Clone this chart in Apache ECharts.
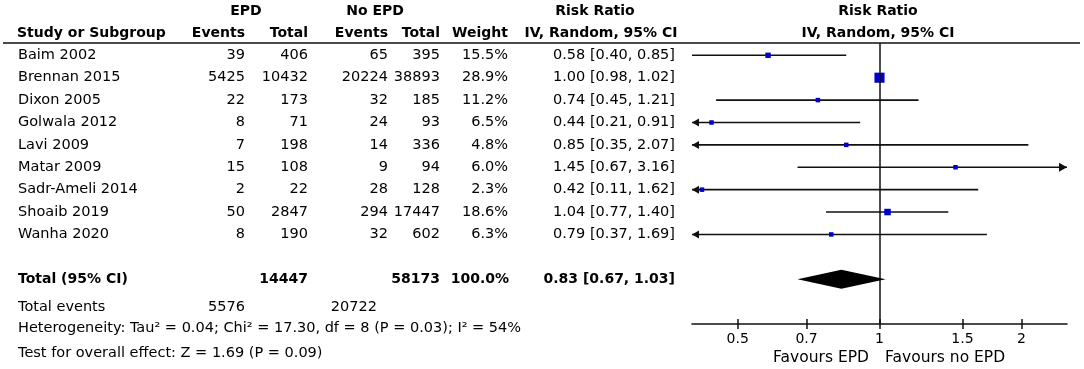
<!DOCTYPE html>
<html lang="en">
<head>
  <meta charset="UTF-8">
  <title>EPD forest plot</title>
  <script src="https://cdn.jsdelivr.net/npm/echarts@6.0.0/dist/echarts.min.js"></script>
  <style>body{margin:0;background:#fff;}</style>
</head>
<body>
<div id="main" style="width:1084px;height:369px;"></div>
<script type="text/javascript">
// study data
var studies   = ['Baim 2002', 'Brennan 2015', 'Dixon 2005', 'Golwala 2012', 'Lavi 2009', 'Matar 2009', 'Sadr-Ameli 2014', 'Shoaib 2019', 'Wanha 2020'];
var epdEvents = [39, 5425, 22, 8, 7, 15, 2, 50, 8];
var epdTotal  = [406, 10432, 173, 71, 198, 108, 22, 2847, 190];
var noEvents  = [65, 20224, 32, 24, 14, 9, 28, 294, 32];
var noTotal   = [395, 38893, 185, 93, 336, 94, 128, 17447, 602];
var weights   = [15.5, 28.9, 11.2, 6.5, 4.8, 6.0, 2.3, 18.6, 6.3];
var rr        = [0.58, 1.00, 0.74, 0.44, 0.85, 1.45, 0.42, 1.04, 0.79];
var ciLow     = [0.40, 0.98, 0.45, 0.21, 0.35, 0.67, 0.11, 0.77, 0.37];
var ciHigh    = [0.85, 1.02, 1.21, 0.91, 2.07, 3.16, 1.62, 1.40, 1.69];

// pooled estimate: rr, low, high
var pooled      = [0.83, 0.67, 1.03];
var totalN      = [14447, 58173];
var totalEvents = [5576, 20722];
var totalRow    = 10;

var xTicks = [0.5, 0.7, 1, 1.5, 2];
var xRange = [0.4, 2.5];

var FONT = 'DejaVu Sans';
var INK = '#111';

function rrText(a, b, c) {
  return a.toFixed(2) + ' [' + b.toFixed(2) + ', ' + c.toFixed(2) + ']';
}
function t(text, x, y, align, bold, size) {
  return {
    type: 'text', x: 0, y: 0, silent: true,
    style: {
      text: String(text), x: x, y: y, align: align || 'left', verticalAlign: 'middle',
      fontFamily: FONT, fontSize: size || (bold ? 14 : 14.5), fontWeight: bold ? 'bold' : 'normal', fill: '#000'
    }
  };
}

var myChart = echarts.init(document.getElementById('main'));

var tableData = studies.map(function (s, i) { return [1, i]; });
tableData.push([1, totalRow]);

var option = {
  animation: false,
  grid: { left: 692, right: 17, top: 43, bottom: 45, containLabel: false, outerBoundsMode: 'none' },
  xAxis: [{
    type: 'log', logBase: 10, min: xRange[0], max: xRange[1], position: 'bottom',
    axisLine: { show: true, onZero: false, lineStyle: { color: INK, width: 1.5 } },
    axisTick: { show: true, inside: false, length: 5, customValues: xTicks, lineStyle: { color: INK, width: 1.5 } },
    axisLabel: {
      customValues: xTicks, margin: 8, color: '#000', fontFamily: FONT, fontSize: 14,
      formatter: function (v) { return String(+(+v).toFixed(2)); }
    },
    splitLine: { show: false }, minorTick: { show: false }
  }, {
    // second copy only for the upward half of the ticks
    type: 'log', logBase: 10, min: xRange[0], max: xRange[1], position: 'bottom', offset: 0,
    axisLine: { show: false, onZero: false },
    axisTick: { show: true, inside: true, length: 5, customValues: xTicks, lineStyle: { color: INK, width: 1.5 } },
    axisLabel: { show: false },
    splitLine: { show: false }
  }],
  yAxis: {
    type: 'value', inverse: true, min: -0.55, max: 12, show: false
  },
  graphic: [
    { type: 'line', silent: true, shape: { x1: 3, y1: 43, x2: 1080, y2: 43 }, style: { stroke: INK, lineWidth: 1.5 } },
    t('EPD', 246, 11, 'center', true),
    t('No EPD', 375, 11, 'center', true),
    t('Risk Ratio', 595, 11, 'center', true),
    t('Risk Ratio', 878, 11, 'center', true),
    t('Study or Subgroup', 17, 33, 'left', true),
    t('Events', 245, 33, 'right', true),
    t('Total', 308, 33, 'right', true),
    t('Events', 388, 33, 'right', true),
    t('Total', 440, 33, 'right', true),
    t('Weight', 508, 33, 'right', true),
    t('IV, Random, 95% CI', 601, 33, 'center', true),
    t('IV, Random, 95% CI', 878, 33, 'center', true),
    t('Total events', 18, 307, 'left'),
    t(totalEvents[0], 245, 307, 'right'),
    t(totalEvents[1], 377, 307, 'right'),
    t('Heterogeneity: Tau\u00b2 = 0.04; Chi\u00b2 = 17.30, df = 8 (P = 0.03); I\u00b2 = 54%', 18, 328, 'left'),
    t('Test for overall effect: Z = 1.69 (P = 0.09)', 18, 353, 'left'),
    t('Favours EPD', 869, 358, 'right', false, 15.5),
    t('Favours no EPD', 885, 358, 'left', false, 15.5)
  ],
  series: [
    {
      // table text rows
      type: 'custom', name: 'table', silent: true, clip: false,
      encode: { x: 0, y: 1 },
      data: tableData,
      renderItem: function (params, api) {
        var i = params.dataIndex;
        var y = api.coord([1, api.value(1)])[1];
        var cells;
        if (i < studies.length) {
          cells = [
            t(studies[i], 18, y, 'left'),
            t(epdEvents[i], 245, y, 'right'),
            t(epdTotal[i], 308, y, 'right'),
            t(noEvents[i], 388, y, 'right'),
            t(noTotal[i], 440, y, 'right'),
            t(weights[i].toFixed(1) + '%', 508, y, 'right'),
            t(rrText(rr[i], ciLow[i], ciHigh[i]), 675, y, 'right')
          ];
        } else {
          cells = [
            t('Total (95% CI)', 18, y, 'left', true),
            t(totalN[0], 308, y, 'right', true),
            t(totalN[1], 440, y, 'right', true),
            t('100.0%', 509, y, 'right', true),
            t(rrText(pooled[0], pooled[1], pooled[2]), 675, y, 'right', true)
          ];
        }
        return { type: 'group', children: cells };
      }
    },
    {
      // confidence intervals
      type: 'custom', name: 'ci', silent: true, clip: false,
      encode: { x: [0, 1], y: 2 },
      data: studies.map(function (s, i) { return [ciLow[i], ciHigh[i], i]; }),
      renderItem: function (params, api) {
        var lo = api.value(0), hi = api.value(1), row = api.value(2);
        var p1 = api.coord([Math.max(lo, xRange[0]), row]);
        var p2 = api.coord([Math.min(hi, xRange[1]), row]);
        var kids = [{
          type: 'line', shape: { x1: p1[0], y1: p1[1], x2: p2[0], y2: p2[1] },
          style: { stroke: INK, lineWidth: 1.6 }
        }];
        if (lo < xRange[0]) {
          kids.push({ type: 'polygon', shape: { points: [[p1[0], p1[1]], [p1[0] + 7, p1[1] - 4], [p1[0] + 7, p1[1] + 4]] }, style: { fill: INK } });
        }
        if (hi > xRange[1]) {
          kids.push({ type: 'polygon', shape: { points: [[p2[0], p2[1]], [p2[0] - 8, p2[1] - 4.5], [p2[0] - 8, p2[1] + 4.5]] }, style: { fill: INK } });
        }
        return { type: 'group', children: kids };
      }
    },
    {
      // point estimates, box size by weight
      type: 'scatter', name: 'rr', silent: true, z: 4,
      symbol: 'rect',
      symbolSize: function (v) { return Math.max(4.5, v[2] * 0.35); },
      itemStyle: { color: '#0000CC', opacity: 1 },
      data: studies.map(function (s, i) { return [rr[i], i, weights[i]]; }),
      markLine: {
        silent: true, symbol: ['none', 'none'], animation: false,
        label: { show: false },
        lineStyle: { color: INK, width: 1.5, type: 'solid' },
        data: [{ xAxis: 1 }]
      }
    },
    {
      // pooled diamond
      type: 'custom', name: 'pooled', silent: true, clip: false, z: 5,
      encode: { x: [0, 1, 2], y: 3 },
      data: [[pooled[0], pooled[1], pooled[2], totalRow]],
      renderItem: function (params, api) {
        var c = api.coord([api.value(0), api.value(3)]);
        var l = api.coord([api.value(1), api.value(3)]);
        var r = api.coord([api.value(2), api.value(3)]);
        var h = 9.5;
        return {
          type: 'polygon',
          shape: { points: [[l[0], l[1]], [c[0], c[1] - h], [r[0], r[1]], [c[0], c[1] + h]] },
          style: { fill: '#000' }
        };
      }
    }
  ]
};

myChart.setOption(option);
</script>
</body>
</html>
